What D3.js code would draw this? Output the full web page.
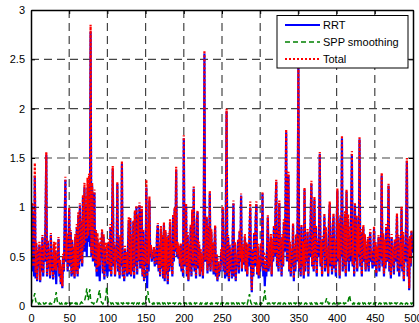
<!DOCTYPE html>
<html><head><meta charset="utf-8">
<script src="https://cdn.jsdelivr.net/npm/d3@7"></script>
<style>body{margin:0;background:#fff}svg{display:block}text{font-family:Arial,"Liberation Sans",sans-serif}</style>
</head><body><svg id="c" width="419" height="323"></svg>
<script>
const seriesNames = ["RRT", "SPP smoothing", "Total"];
const xTicks = [0,50,100,150,200,250,300,350,400,450,500];
const yTicks = [0,0.5,1,1.5,2,2.5,3];
const rrt = [
0.70,1.02,0.35,0.95,0.30,1.32,0.28,0.62,0.25,0.55,
0.40,0.62,0.24,0.58,0.35,0.70,0.30,0.60,0.45,0.85,
1.53,0.30,0.65,0.38,0.55,0.28,0.72,0.35,0.50,0.27,
0.62,0.32,0.56,0.22,0.48,0.40,0.68,0.30,0.45,0.22,
0.38,0.18,0.50,0.35,0.80,1.28,0.45,0.70,0.35,0.60,
0.98,0.40,0.75,0.30,0.65,0.32,0.58,0.28,0.70,0.35,
0.80,0.30,0.92,0.38,1.02,0.45,0.85,0.40,1.10,0.55,
1.20,0.55,1.00,0.50,1.20,0.65,1.22,0.60,2.78,0.50,
1.22,0.45,0.90,1.15,0.40,0.75,0.30,0.68,0.30,0.50,
0.25,0.62,0.50,0.75,0.33,0.70,0.27,0.60,0.35,0.45,
0.30,0.48,0.65,0.35,0.80,0.30,0.72,1.39,0.40,0.62,
0.30,0.55,0.45,1.24,0.35,0.60,0.28,0.70,0.40,1.44,
0.30,0.50,0.25,0.58,0.35,0.52,0.30,0.60,0.87,0.32,
0.87,0.30,0.70,0.35,0.85,0.28,0.95,0.40,1.00,0.32,
0.90,0.45,1.02,0.38,0.80,0.98,0.30,0.75,0.25,0.60,
0.40,1.20,0.18,0.68,0.35,1.07,0.50,0.60,0.45,0.55,
0.48,0.58,0.40,0.55,0.42,0.72,0.82,0.35,0.60,0.30,
0.78,0.38,0.70,0.28,0.82,0.25,0.75,0.32,0.68,0.22,
0.72,0.35,0.85,0.40,0.60,0.30,0.90,0.45,0.98,0.55,
1.38,0.50,0.62,0.48,0.58,0.40,0.62,0.35,0.55,0.30,
1.70,0.40,0.65,1.01,0.30,0.72,0.25,0.60,0.35,0.80,
0.30,0.95,0.40,1.19,0.35,0.70,0.28,0.85,0.95,0.38,
0.62,0.30,0.55,0.35,0.50,0.28,0.65,2.56,0.45,0.70,
0.89,0.33,0.80,0.40,1.14,0.35,0.75,0.45,0.62,0.32,
0.55,0.80,0.30,0.50,0.25,0.45,0.30,0.40,0.35,0.55,
0.45,0.98,0.35,0.60,0.28,0.90,1.97,0.30,0.70,0.25,
0.60,0.35,0.55,0.28,0.70,1.04,0.30,0.62,0.25,0.50,
0.40,0.65,0.33,0.75,0.45,1.12,0.35,0.60,0.42,0.55,
0.70,0.35,0.62,0.30,0.58,0.40,0.70,1.00,0.40,0.14,
0.55,0.30,0.72,0.40,0.85,1.03,0.32,0.60,0.28,0.45,
0.35,0.62,0.40,1.14,0.30,0.45,0.20,0.40,0.30,0.58,
0.90,0.35,0.62,0.40,0.70,0.30,0.65,0.45,0.80,0.50,
0.95,1.26,0.40,0.75,0.35,1.04,0.45,0.65,0.30,0.70,
0.40,0.85,0.55,0.95,1.76,0.45,0.80,1.33,0.35,0.62,
0.30,0.55,0.40,0.82,0.25,0.60,0.35,0.70,0.45,0.90,
2.44,0.35,0.68,0.30,0.80,0.40,0.62,0.28,1.18,0.35,
0.65,0.45,0.75,0.30,0.60,0.50,0.85,1.24,0.40,0.70,
0.35,1.08,0.45,0.80,0.30,0.65,0.50,0.72,1.54,0.40,
0.62,0.30,0.68,0.55,0.91,0.35,0.75,0.40,0.55,0.30,
0.85,1.03,0.40,0.70,0.32,0.80,0.91,0.38,0.65,0.30,
0.75,1.17,0.45,0.82,0.28,0.90,0.50,1.70,0.35,0.80,
0.40,0.93,0.30,1.16,0.45,0.88,0.35,0.70,0.45,0.96,
1.54,0.40,0.85,0.30,1.02,0.45,0.90,0.35,0.80,0.50,
1.69,0.40,0.75,0.30,0.65,0.80,0.45,0.70,0.35,0.62,
0.40,0.68,0.35,0.60,0.75,0.45,0.55,0.38,0.50,0.78,
0.40,0.62,0.30,0.58,0.45,0.70,0.35,0.65,0.48,1.32,
0.40,0.72,0.30,0.65,0.38,0.80,0.45,0.60,1.22,0.35,
0.62,0.28,0.70,0.40,0.58,0.32,0.65,0.45,0.55,0.91,
0.35,0.70,0.30,0.62,0.40,0.98,0.35,0.72,0.25,0.60,
0.45,0.85,1.47,0.30,0.65,0.16,0.68,0.40,0.75,0.55,
0.55];
const spp = [
0.04,0.03,0.05,0.08,0.10,0.13,0.06,0.03,0.02,0.03,
0.02,0.03,0.02,0.02,0.03,0.02,0.03,0.02,0.02,0.03,
0.03,0.02,0.02,0.03,0.02,0.03,0.02,0.02,0.03,0.02,
0.03,0.05,0.09,0.14,0.07,0.03,0.02,0.03,0.02,0.02,
0.03,0.02,0.03,0.02,0.02,0.03,0.02,0.03,0.02,0.03,
0.02,0.03,0.02,0.03,0.03,0.02,0.03,0.02,0.03,0.02,
0.03,0.02,0.03,0.03,0.02,0.03,0.04,0.03,0.03,0.04,
0.05,0.08,0.12,0.18,0.10,0.06,0.12,0.17,0.07,0.04,
0.03,0.03,0.02,0.03,0.03,0.02,0.04,0.06,0.10,0.14,
0.16,0.08,0.04,0.03,0.02,0.03,0.03,0.05,0.10,0.19,
0.12,0.05,0.03,0.02,0.03,0.02,0.03,0.03,0.02,0.03,
0.02,0.03,0.03,0.02,0.03,0.02,0.03,0.02,0.03,0.03,
0.02,0.03,0.02,0.03,0.02,0.03,0.03,0.02,0.03,0.02,
0.03,0.02,0.03,0.03,0.02,0.03,0.02,0.03,0.02,0.03,
0.03,0.02,0.03,0.02,0.03,0.03,0.02,0.03,0.02,0.03,
0.04,0.08,0.12,0.15,0.07,0.04,0.03,0.02,0.03,0.02,
0.03,0.02,0.03,0.03,0.02,0.03,0.02,0.03,0.03,0.02,
0.03,0.02,0.03,0.02,0.03,0.03,0.02,0.03,0.02,0.03,
0.02,0.03,0.03,0.02,0.03,0.02,0.03,0.03,0.02,0.03,
0.03,0.02,0.03,0.02,0.03,0.03,0.02,0.03,0.02,0.03,
0.03,0.02,0.03,0.03,0.02,0.03,0.02,0.03,0.02,0.03,
0.02,0.03,0.03,0.02,0.03,0.02,0.03,0.03,0.02,0.03,
0.03,0.02,0.03,0.02,0.03,0.03,0.02,0.03,0.02,0.03,
0.02,0.03,0.02,0.03,0.03,0.02,0.03,0.02,0.03,0.03,
0.03,0.02,0.03,0.03,0.02,0.03,0.02,0.03,0.02,0.03,
0.02,0.03,0.03,0.02,0.03,0.02,0.03,0.03,0.02,0.03,
0.03,0.02,0.03,0.02,0.03,0.03,0.02,0.03,0.02,0.03,
0.02,0.03,0.03,0.02,0.03,0.02,0.03,0.03,0.02,0.03,
0.03,0.02,0.03,0.02,0.05,0.09,0.12,0.06,0.03,0.02,
0.03,0.02,0.03,0.03,0.02,0.03,0.02,0.03,0.03,0.02,
0.03,0.02,0.03,0.02,0.05,0.10,0.16,0.08,0.04,0.03,
0.02,0.03,0.03,0.02,0.03,0.02,0.03,0.03,0.02,0.03,
0.03,0.02,0.03,0.02,0.03,0.03,0.02,0.03,0.02,0.03,
0.02,0.03,0.03,0.02,0.03,0.02,0.03,0.03,0.02,0.03,
0.03,0.02,0.03,0.02,0.03,0.03,0.02,0.03,0.02,0.03,
0.02,0.03,0.03,0.02,0.03,0.02,0.03,0.03,0.02,0.03,
0.03,0.02,0.03,0.02,0.03,0.03,0.02,0.03,0.02,0.03,
0.02,0.03,0.03,0.02,0.03,0.02,0.03,0.03,0.02,0.03,
0.03,0.02,0.03,0.02,0.03,0.03,0.05,0.08,0.05,0.03,
0.02,0.03,0.03,0.02,0.03,0.02,0.03,0.03,0.02,0.03,
0.03,0.02,0.03,0.02,0.03,0.03,0.02,0.03,0.02,0.03,
0.02,0.03,0.03,0.02,0.03,0.05,0.08,0.11,0.06,0.03,
0.03,0.02,0.03,0.02,0.03,0.03,0.02,0.03,0.02,0.03,
0.02,0.03,0.03,0.02,0.03,0.02,0.03,0.03,0.02,0.03,
0.03,0.02,0.03,0.02,0.03,0.03,0.02,0.03,0.02,0.03,
0.02,0.03,0.03,0.02,0.03,0.02,0.03,0.03,0.02,0.03,
0.03,0.02,0.03,0.02,0.03,0.03,0.02,0.03,0.02,0.03,
0.02,0.03,0.03,0.02,0.03,0.02,0.03,0.03,0.02,0.03,
0.03,0.02,0.03,0.02,0.03,0.03,0.02,0.03,0.02,0.03,
0.02,0.03,0.03,0.02,0.03,0.02,0.03,0.03,0.02,0.03,
0.03];
const total = rrt.map((v,i)=>v+spp[i]);

const L=31,R=413,T=10,B=306;
const svg=d3.select("#c");
const x=d3.scaleLinear().domain([0,500]).range([L,R]);
const y=d3.scaleLinear().domain([0,3]).range([B,T]);

const g=svg.append("g");
g.selectAll("line.gx").data(xTicks.filter(t=>t>0&&t<500)).enter().append("line")
 .attr("x1",d=>x(d)).attr("x2",d=>x(d)).attr("y1",T).attr("y2",B)
 .attr("stroke","#444").attr("stroke-width",1.2).attr("stroke-dasharray","8,5");
g.selectAll("line.gy").data(yTicks.filter(t=>t>0&&t<3)).enter().append("line")
 .attr("y1",d=>y(d)).attr("y2",d=>y(d)).attr("x1",L).attr("x2",R)
 .attr("stroke","#444").attr("stroke-width",1.2).attr("stroke-dasharray","8,5");

svg.append("clipPath").attr("id","cp").append("rect").attr("x",L).attr("y",T).attr("width",R-L).attr("height",B-T);
const line=d3.line().x((d,i)=>x(i)).y(d=>y(d));
const pg=svg.append("g").attr("clip-path","url(#cp)");
pg.append("path").datum(rrt).attr("d",line).attr("fill","none").attr("stroke","#0000ff").attr("stroke-width",2.2);
pg.append("path").datum(spp).attr("d",line).attr("fill","none").attr("stroke","#008000").attr("stroke-width",1.5).attr("stroke-dasharray","5,3");
pg.append("path").datum(total).attr("d",line).attr("fill","none").attr("stroke","#ff0000").attr("stroke-width",2.2).attr("stroke-dasharray","2,2");

const ax=svg.append("g").attr("transform",`translate(0,${B})`).call(d3.axisBottom(x).tickValues(xTicks).tickSizeInner(-4).tickSizeOuter(0).tickPadding(8));
const axT=svg.append("g").attr("transform",`translate(0,${T})`).call(d3.axisTop(x).tickValues(xTicks).tickSizeInner(-4).tickSizeOuter(0).tickFormat(""));
const ay=svg.append("g").attr("transform",`translate(${L},0)`).call(d3.axisLeft(y).tickValues(yTicks).tickSizeInner(-4).tickSizeOuter(0).tickPadding(6).tickFormat(d3.format("")));
const ayR=svg.append("g").attr("transform",`translate(${R},0)`).call(d3.axisRight(y).tickValues(yTicks).tickSizeInner(-4).tickSizeOuter(0).tickFormat(""));
[ax,axT,ay,ayR].forEach(a=>{a.select(".domain").attr("stroke","#000").attr("stroke-width",1.5);a.selectAll("line").attr("stroke","#000");a.selectAll("text").attr("font-size",11).attr("fill","#000").style("font-family","Arial, 'Liberation Sans', sans-serif");});

const lg=svg.append("g");
lg.append("rect").attr("x",277).attr("y",15.5).attr("width",131).attr("height",52.5).attr("fill","#fff").attr("stroke","#000").attr("stroke-width",1);
const styles=[{c:"#0000ff",w:2,d:null},{c:"#008000",w:1.5,d:"5,3"},{c:"#ff0000",w:2,d:"2,2"}];
const ly=[25,42,59];
seriesNames.forEach((n,i)=>{
 lg.append("line").attr("x1",285).attr("x2",320).attr("y1",ly[i]).attr("y2",ly[i]).attr("stroke",styles[i].c).attr("stroke-width",styles[i].w).attr("stroke-dasharray",styles[i].d);
 lg.append("text").attr("x",323).attr("y",ly[i]+4).attr("font-size",11).text(n);
});
</script></body></html>
